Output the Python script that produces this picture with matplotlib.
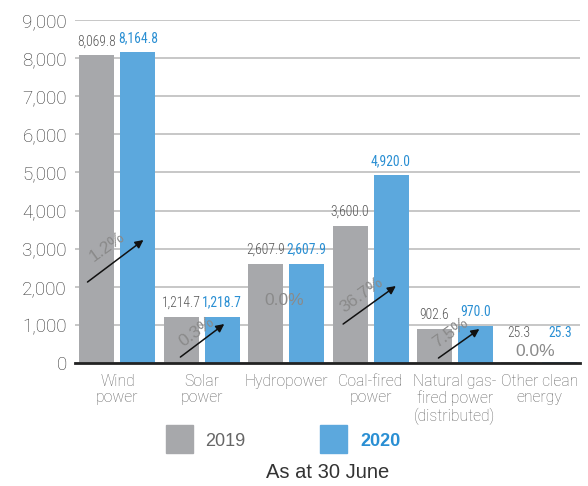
import matplotlib.pyplot as plt
import numpy as np

# installed capacity by source, MW
categories = ['Wind\npower', 'Solar\npower', 'Hydropower', 'Coal-fired\npower',
              'Natural gas-\nfired power\n(distributed)', 'Other clean\nenergy']
cap_2019 = [8069.8, 1214.7, 2607.9, 3600.0, 902.6, 25.3]
cap_2020 = [8164.8, 1218.7, 2607.9, 4920.0, 970.0, 25.3]
growth = ['1.2%', '0.3%', '0.0%', '36.7%', '7.5%', '0.0%']

GRAY = '#a7a8ab'
BLUE = '#5ca8dd'
BLUE_TXT = '#2a8fd3'

plt.rcParams['font.family'] = ['Roboto', 'DejaVu Sans']
plt.rcParams['font.weight'] = 'light'

fig = plt.figure(figsize=(5.88, 4.86), dpi=100)
ax = fig.add_axes([0.128, 0.253, 0.858, 0.706])

x = np.arange(len(categories))
w = 0.414
off = 0.243
ax.bar(x - off, cap_2019, w, color=GRAY, zorder=3)
ax.bar(x + off, cap_2020, w, color=BLUE, zorder=3)

ax.set_xlim(-0.5, 5.48)
ax.set_ylim(0, 9000)
ax.set_yticks(np.arange(0, 9001, 1000))
ax.set_yticklabels([f'{v:,}' for v in range(0, 9001, 1000)], fontsize=13.5, color='#333')
ax.tick_params(axis='y', length=0, pad=6)
ax.tick_params(axis='x', length=0, pad=8)
ax.set_xticks(x)
ax.set_xticklabels(categories, fontsize=11.3, color='#666', linespacing=1.1, va='top')
ax.grid(axis='y', color='#bdbdbd', lw=1.2, zorder=0)
for s in ['left', 'right', 'top']:
    ax.spines[s].set_visible(False)
ax.spines['bottom'].set_color('#222')
ax.spines['bottom'].set_linewidth(2)
ax.spines['bottom'].set_zorder(4)

narrow = ['Roboto Condensed', 'DejaVu Sans']
for i in range(len(categories)):
    lift = 16 if cap_2019[i] < 100 else 5
    ax.annotate(f'{cap_2019[i]:,.1f}', (x[i] - off, cap_2019[i]), xytext=(0, lift),
                textcoords='offset points', ha='center', va='bottom',
                fontsize=9.8, color='#555', family=narrow, fontweight='light')
    ax.annotate(f'{cap_2020[i]:,.1f}', (x[i] + off, cap_2020[i]), xytext=(0, lift),
                textcoords='offset points', ha='center', va='bottom',
                fontsize=9.8, color=BLUE_TXT, family=narrow, fontweight='normal')

# growth arrows: (start x, start y, end x, end y, label x, label y) relative to group centre
arrows = {
    0: (-0.355, 2125, 0.308, 3227, -0.12, 3044),
    1: (-0.254, 157, 0.266, 1023, -0.065, 820),
    3: (-0.325, 1023, 0.30, 2020, -0.10, 1780),
    4: (-0.195, 131, 0.29, 892, -0.05, 790),
}
plain = ['Liberation Sans', 'DejaVu Sans']
pct_style = dict(fontsize=12.5, color='#8a8a8a', family=plain, fontweight='normal', zorder=5)
for i, (x0, y0, x1, y1, tx, ty) in arrows.items():
    ax.annotate('', xy=(x[i] + x1, y1), xytext=(x[i] + x0, y0),
                arrowprops=dict(arrowstyle='-|>', color='#111', lw=1.1,
                                mutation_scale=12, shrinkA=0, shrinkB=0), zorder=5)
    ax.text(x[i] + tx, ty, growth[i], rotation=36, ha='center', va='center',
            rotation_mode='anchor', **pct_style)

ax.text(x[2] - 0.02, 1650, growth[2], ha='center', va='center', **pct_style)
ax.text(x[5] - 0.05, 290, growth[5], ha='center', va='center', **pct_style)

# legend
fig.patches.append(plt.Rectangle((166 / 588, 1 - 453 / 486), 27 / 588, 28 / 486,
                                 color=GRAY, transform=fig.transFigure))
fig.patches.append(plt.Rectangle((320 / 588, 1 - 453 / 486), 27 / 588, 28 / 486,
                                 color=BLUE, transform=fig.transFigure))
fig.text(205 / 588, 1 - 441 / 486, '2019', fontsize=13, color='#666',
         family=plain, fontweight='normal', va='center')
fig.text(360 / 588, 1 - 441 / 486, '2020', fontsize=13, color=BLUE_TXT,
         family=plain, fontweight='bold', va='center')
fig.text(328 / 588, 1 - 472 / 486, 'As at 30 June', fontsize=14.5, color='#333',
         family=plain, fontweight='normal', ha='center', va='center')

fig.savefig('out.png', dpi=100)
